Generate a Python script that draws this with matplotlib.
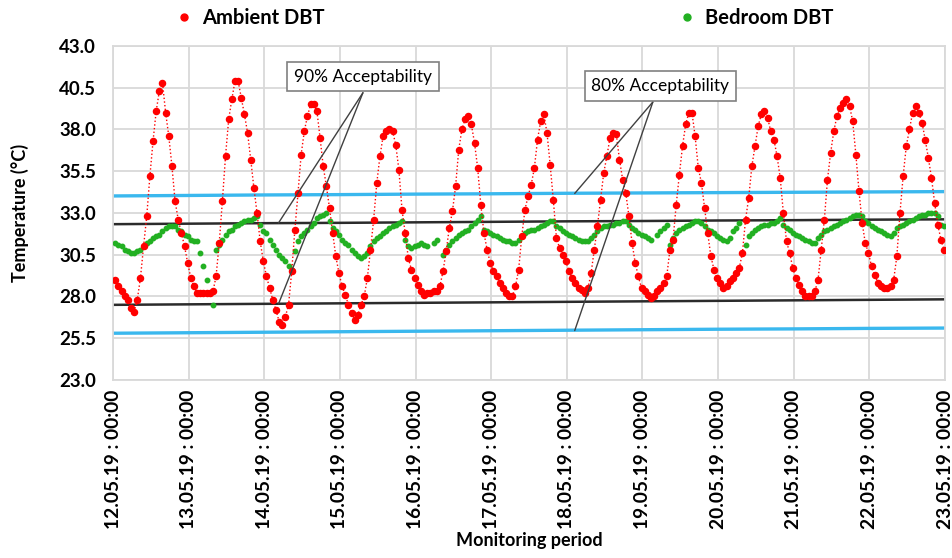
import numpy as np
import matplotlib
matplotlib.use("Agg")
import matplotlib.pyplot as plt
from matplotlib.lines import Line2D

plt.rcParams['font.family'] = ['Lato', 'DejaVu Sans']

# hourly readings, 12.05.19 00:42 onwards
ambient = [
    29.0, 28.6, 28.3, 28.0, 27.8, 27.3, 27.1, 27.8, 29.1, 31.0, 32.8, 35.2,
    37.3, 39.1, 40.3, 40.8, 39.0, 37.6, 35.8, 33.7, 32.6, 31.8, 31.0, 30.0,
    29.1, 28.6, 28.2, 28.2, 28.2, 28.2, 28.2, 28.3, 29.2, 31.2, 33.7, 36.4,
    38.6, 39.8, 40.9, 40.9, 39.9, 38.9, 37.8, 36.2, 34.5, 33.0, 31.3, 30.1,
    29.2, 28.5, 27.8, 27.2, 26.5, 26.3, 26.8, 27.5, 29.5, 32.0, 34.2, 36.5,
    37.9, 38.8, 39.5, 39.5, 39.1, 37.5, 35.8, 34.6, 33.3, 31.8, 30.4, 29.4,
    28.6, 28.1, 27.5, 27.0, 26.6, 26.9, 27.5, 28.0, 29.1, 30.8, 32.6, 34.8,
    36.4, 37.6, 37.9, 38.0, 37.9, 37.1, 35.6, 33.2, 31.8, 30.3, 29.6, 29.1,
    28.7, 28.3, 28.1, 28.2, 28.2, 28.3, 28.3, 28.6, 29.5, 30.7, 32.1, 33.1,
    34.6, 36.8, 38.0, 38.6, 38.8, 38.3, 37.2, 35.7, 33.5, 31.8, 30.8, 30.0,
    29.5, 29.2, 28.8, 28.5, 28.2, 28.0, 28.0, 28.6, 29.6, 31.6, 33.2, 34.0,
    34.7, 35.7, 37.4, 38.5, 38.9, 37.8, 35.9, 33.8, 31.5, 30.9, 30.5, 30.1,
    29.5, 29.1, 28.8, 28.5, 28.4, 28.2, 28.5, 29.4, 30.8, 32.2, 33.8, 35.4,
    36.4, 37.5, 37.8, 37.7, 36.2, 35.0, 34.2, 32.8, 31.2, 30.0, 29.2, 28.5,
    28.3, 28.1, 27.9, 28.0, 28.3, 28.5, 28.8, 29.2, 30.8, 31.4, 33.5, 35.3,
    37.0, 38.3, 39.0, 39.0, 37.6, 35.7, 34.8, 33.3, 31.8, 30.4, 29.6, 29.1,
    28.8, 28.5, 28.6, 28.9, 29.1, 29.4, 29.7, 30.6, 32.6, 33.9, 35.8, 37.0,
    38.2, 38.9, 39.1, 38.7, 37.9, 37.4, 36.4, 35.1, 33.0, 31.3, 30.6, 29.7,
    29.1, 28.7, 28.3, 28.0, 28.0, 28.0, 28.3, 29.0, 30.8, 32.6, 35.0, 36.6,
    37.9, 38.8, 39.3, 39.6, 39.8, 39.4, 38.5, 36.5, 34.3, 32.4, 31.2, 30.6,
    29.8, 29.3, 28.8, 28.6, 28.5, 28.5, 28.6, 29.0, 30.4, 33.0, 35.2, 37.0,
    38.0, 39.0, 39.4, 39.0, 38.4, 37.4, 36.3, 35.1, 33.6, 32.3, 31.4, 30.8,
]

nan = np.nan
bedroom = [
    31.2, 31.1, 31.0, 30.8, 30.7, 30.6, 30.6, 30.7, 30.8, 31.0, 31.2, 31.3,
    31.5, 31.6, 31.7, 31.9, 32.1, 32.2, 32.2, 32.2, 32.0, 31.9, 31.7, 31.6,
    31.4, 31.3, 31.3, 30.6, 29.8, 29.0, 28.2, 27.5, 30.8, 31.1, 31.4, 31.7,
    31.9, 32.0, 32.2, 32.3, 32.4, 32.5, 32.6, 32.6, 32.7, 32.8, 32.3, 31.9,
    31.8, 31.4, 31.1, 30.8, 30.5, 30.3, 30.1, 29.8, 29.6, 30.7, 31.3, 31.6,
    31.8, 32.0, 32.2, 32.4, 32.7, 32.8, 32.9, 33.0, 32.5, 32.1, 31.9, 31.7,
    31.4, 31.2, 31.1, 30.8, 30.6, 30.4, 30.3, 30.4, 30.6, 31.0, 31.3, 31.5,
    31.6, 31.8, 31.9, 32.1, 32.2, 32.3, 32.4, 32.5, 31.4, 31.0, 30.9, 31.0,
    31.1, 31.2, 31.1, 31.0, nan, 31.2, 31.4, nan, 30.5, 30.8, 31.1, 31.3,
    31.5, 31.7, 31.8, 31.9, 32.0, 32.2, 32.4, 32.6, 32.8, 32.0, 31.9, 31.8,
    31.7, 31.6, 31.5, 31.4, 31.3, 31.3, 31.2, 31.2, 31.4, 31.6, 31.8, 31.9,
    32.0, 32.0, 32.1, 32.2, 32.3, 32.4, 32.5, 32.5, 32.2, 32.1, 31.9, 31.8,
    31.7, 31.6, 31.5, 31.4, 31.3, 31.3, 31.3, 31.5, 31.7, 31.9, 32.1, 32.2,
    32.2, 32.3, 32.3, 32.4, 32.4, 32.5, 32.5, 32.3, 32.1, 32.0, 31.8, 31.7,
    31.6, 31.5, 31.4, nan, 31.7, 31.9, 32.1, 32.3, 31.1, 31.5, 31.8, 32.0,
    32.1, 32.2, 32.3, 32.4, 32.5, 32.5, 32.4, 32.2, 32.0, 31.9, 31.8, 31.6,
    31.5, 31.4, 31.3, 31.5, 31.9, 32.1, 32.4, nan, 31.1, 31.6, 31.8, 32.0,
    32.1, 32.2, 32.3, 32.3, 32.4, 32.4, 32.5, 32.7, 32.3, 32.1, 32.0, 31.8,
    31.7, 31.6, 31.5, 31.4, 31.3, 31.2, 31.2, 31.5, 31.7, 31.9, 32.0, 32.1,
    32.2, 32.3, 32.4, 32.5, 32.6, 32.7, 32.8, 32.9, 32.9, 32.8, 32.5, 32.4,
    32.2, 32.1, 32.0, 31.9, 31.8, 31.7, 31.6, 31.8, 32.1, 32.2, 32.3, 32.4,
    32.5, 32.6, 32.7, 32.8, 32.9, 32.9, 33.0, 33.0, 33.0, 32.8, 32.3, 32.2,
]

# adaptive comfort limits, one value per midnight (12.05 .. 23.05)
upper_80 = [34.02, 34.05, 34.08, 34.10, 34.13, 34.15, 34.18, 34.20, 34.22, 34.24, 34.26, 34.28]
upper_90 = [32.33, 32.36, 32.39, 32.41, 32.44, 32.47, 32.50, 32.52, 32.55, 32.57, 32.60, 32.62]
lower_90 = [27.50, 27.53, 27.56, 27.59, 27.62, 27.65, 27.68, 27.71, 27.74, 27.77, 27.80, 27.83]
lower_80 = [25.80, 25.83, 25.86, 25.89, 25.92, 25.95, 25.98, 26.01, 26.04, 26.06, 26.09, 26.11]

day_labels = ['%02d.05.19 : 00:00' % d for d in range(12, 24)]
y_ticks = [23.0, 25.5, 28.0, 30.5, 33.0, 35.5, 38.0, 40.5, 43.0]

hours = 0.7 + np.arange(len(ambient))
midnights = np.arange(len(day_labels)) * 24

fig = plt.figure(figsize=(9.52, 5.58), dpi=100)
ax = fig.add_axes([0.1187, 0.319, 0.874, 0.5986])

grid_c = '#d9d9d9'
ax.set_xlim(0, 264)
ax.set_ylim(23, 43)
ax.set_xticks(midnights)
ax.set_xticklabels(day_labels, rotation=90, fontsize=13.8, fontweight='bold')
ax.set_yticks(y_ticks)
ax.set_yticklabels(['%.1f' % v for v in y_ticks], fontsize=13.5, fontweight='bold')
ax.tick_params(axis='y', length=0, pad=12)
ax.tick_params(axis='x', length=0, pad=7)
ax.grid(True, color=grid_c, linewidth=1.3)
ax.set_axisbelow(True)
for s in ax.spines.values():
    s.set_color(grid_c)
    s.set_linewidth(1.3)

ax.plot(midnights, upper_80, color='#3ab8ee', linewidth=2.4, zorder=2)
ax.plot(midnights, lower_80, color='#3ab8ee', linewidth=2.4, zorder=2)
ax.plot(midnights, upper_90, color='#2b2b2b', linewidth=1.8, zorder=2)
ax.plot(midnights, lower_90, color='#2b2b2b', linewidth=1.8, zorder=2)

ax.plot(hours, ambient, color='#ff0000', linestyle=':', linewidth=1.0,
        marker='o', markersize=4.4, zorder=4)
ax.plot(hours, bedroom, color='#22b022', linestyle='none',
        marker='o', markersize=3.2, zorder=3)

# callouts
box = dict(boxstyle='square,pad=0.38', facecolor='white', edgecolor='#808080', linewidth=1.2)
lead = dict(arrowstyle='-', color='#404040', linewidth=1.0, shrinkA=0, shrinkB=0)
ax.text(79.3, 41.15, '90% Acceptability', fontsize=12.5, ha='center', va='center', bbox=box, zorder=6)
ax.annotate('', xy=(52.5, 32.40), xytext=(79.3, 40.2), arrowprops=lead, zorder=5)
ax.annotate('', xy=(52.5, 27.55), xytext=(79.3, 40.2), arrowprops=lead, zorder=5)
ax.text(173.6, 40.6, '80% Acceptability', fontsize=12.5, ha='center', va='center', bbox=box, zorder=6)
ax.annotate('', xy=(146.5, 34.17), xytext=(171.3, 39.65), arrowprops=lead, zorder=5)
ax.annotate('', xy=(146.5, 25.96), xytext=(171.3, 39.65), arrowprops=lead, zorder=5)

ax.set_ylabel('Temperature (°C)', fontsize=13, fontweight='bold', labelpad=22)
ax.set_xlabel('Monitoring period', fontsize=13, fontweight='bold', labelpad=2)

handles = [
    Line2D([], [], color='#ff0000', marker='o', linestyle='none', markersize=5),
    Line2D([], [], color='#22b022', marker='o', linestyle='none', markersize=5),
]
fig.legend(handles, ['Ambient DBT', 'Bedroom DBT'], loc='center', ncol=2,
           bbox_to_anchor=(0.529, 0.968), frameon=False, handlelength=1.0,
           handletextpad=0.4, columnspacing=17.5,
           prop={'size': 14.5, 'weight': 'bold'})

fig.savefig('out.png', dpi=100)
plt.close()
